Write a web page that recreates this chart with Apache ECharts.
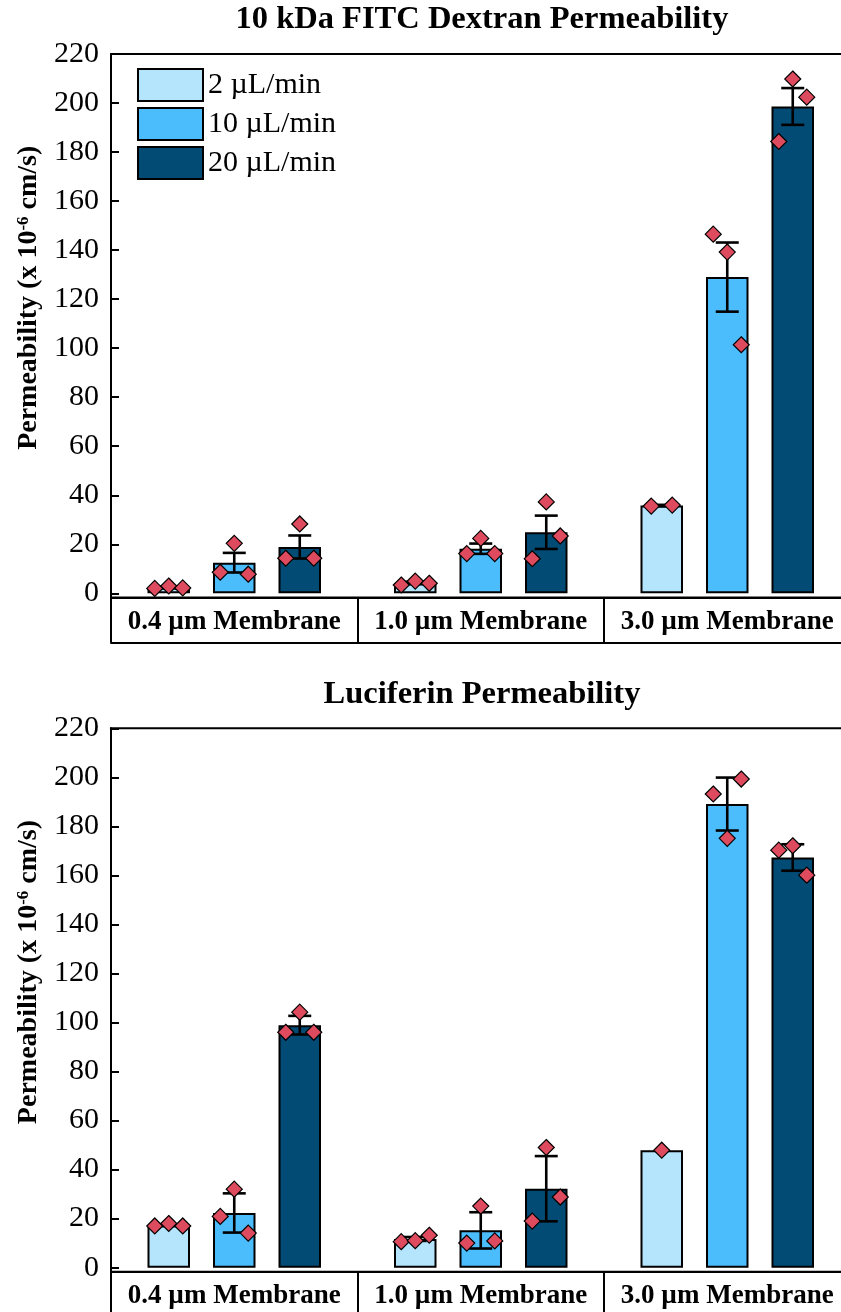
<!DOCTYPE html>
<html>
<head>
<meta charset="utf-8">
<script src="https://cdn.jsdelivr.net/npm/echarts@6/dist/echarts.min.js"></script>
<style>
html,body{margin:0;padding:0;background:#fff;}
#chart{width:841px;height:1312px;}
</style>
</head>
<body>
<div id="chart"></div>
<script>
// ---------- data ----------
const categories = ['0.4 µm Membrane', '1.0 µm Membrane', '3.0 µm Membrane'];
const flowRates = ['2 µL/min', '10 µL/min', '20 µL/min'];
const yTicks = [0, 20, 40, 60, 80, 100, 120, 140, 160, 180, 200, 220];

// 10 kDa FITC Dextran
const dextranMean2  = [2.4, 4.2, 35.8];
const dextranMean10 = [12.5, 18.2, 129.0];
const dextranMean20 = [18.9, 24.9, 198.6];
const dextranErr2   = [0.3, 0.5, 0.3];
const dextranErr10  = [4.0, 2.1, 14.1];
const dextranErr20  = [4.7, 6.8, 7.5];
const dextranPts2   = [[2.0, 3.0, 2.2], [3.4, 5.0, 4.1], [35.6, 36.0]];
const dextranPts10  = [[8.6, 20.4, 7.8], [16.2, 22.4, 16.2], [146.5, 139.2, 101.4]];
const dextranPts20  = [[14.3, 28.3, 14.3], [14.1, 37.3, 23.4], [184.3, 209.8, 202.4]];

// Luciferin
const lucMean2  = [17.3, 11.7, 47.9];
const lucMean10 = [22.3, 15.2, 189.1];
const lucMean20 = [98.9, 32.2, 167.3];
const lucErr2   = [0.3, 0.8, 0];
const lucErr10  = [8.0, 7.4, 10.8];
const lucErr20  = [3.8, 13.3, 5.4];
const lucPts2   = [[17.0, 18.0, 17.0], [10.6, 11.0, 13.2], [47.9]];
const lucPts10  = [[20.9, 32.0, 14.1], [10.0, 25.1, 10.9], [193.2, 175.1, 199.3]];
const lucPts20  = [[96.0, 104.2, 96.0], [19.0, 49.0, 28.8], [170.3, 172.1, 160.1]];

// ---------- styles ----------
const SERIF = "'Liberation Serif', 'Times New Roman', serif";
const barColors = ['#B5E5FC', '#4BBDFC', '#024B74'];
const diamondColor = '#DF4B5E';
const BAR_W = 42.5, BAR_GAP = 23;
const barOffsets = [-(BAR_W + BAR_GAP), 0, BAR_W + BAR_GAP];
const jitter = { 1: [0], 2: [-10.5, 10.5], 3: [-14, 0, 14] };
const CAP = 11.5;

const chart = echarts.init(document.getElementById('chart'), null, { renderer: 'canvas' });

function seriesFor(gi, means, errs, pts) {
  const out = [];
  for (let f = 0; f < 3; f++) {
    out.push({
      type: 'bar', name: flowRates[f], xAxisIndex: gi, yAxisIndex: gi,
      data: means[f], barWidth: BAR_W, barGap: (BAR_GAP / BAR_W * 100) + '%',
      itemStyle: { color: barColors[f], borderColor: '#000', borderWidth: 2 },
      z: 2, silent: true
    });
  }
  for (let f = 0; f < 3; f++) {
    out.push({
      type: 'custom', name: 'err' + f, xAxisIndex: gi, yAxisIndex: gi, z: 3, silent: true,
      data: means[f].map((m, i) => [i, m, errs[f][i]]),
      renderItem: function (params, api) {
        const i = api.value(0), m = api.value(1), e = api.value(2);
        if (!e) return null;
        const x = api.coord([i, m])[0] + barOffsets[f];
        const yT = api.coord([i, m + e])[1];
        const yB = api.coord([i, m - e])[1];
        const st = { stroke: '#000', lineWidth: 2.6 };
        return {
          type: 'group', children: [
            { type: 'line', shape: { x1: x, y1: yT, x2: x, y2: yB }, style: st },
            { type: 'line', shape: { x1: x - CAP, y1: yT, x2: x + CAP, y2: yT }, style: st },
            { type: 'line', shape: { x1: x - CAP, y1: yB, x2: x + CAP, y2: yB }, style: st }
          ]
        };
      }
    });
  }
  for (let f = 0; f < 3; f++) {
    const data = [];
    pts[f].forEach((arr, i) => {
      const jit = jitter[arr.length];
      arr.forEach((v, k) => {
        data.push({ value: [i, v], symbolOffset: [barOffsets[f] + jit[k], 0] });
      });
    });
    out.push({
      type: 'scatter', name: 'pts' + f, xAxisIndex: gi, yAxisIndex: gi, z: 4, silent: true,
      symbol: 'diamond', symbolSize: 16, data: data,
      itemStyle: { color: diamondColor, borderColor: '#000', borderWidth: 1.2, opacity: 1 }
    });
  }
  return out;
}

function gridFor(top) {
  return { left: 111, right: -9.5, top: top, height: 543.5, show: true,
           borderColor: '#000', borderWidth: 2, containLabel: false, outerBoundsMode: 'none' };
}
function xAxisFor(gi) {
  return {
    type: 'category', gridIndex: gi, data: categories, position: 'bottom',
    axisLine: { show: true, onZero: false, lineStyle: { color: '#000', width: 2 } },
    axisTick: { show: true, inside: false, length: 45, lineStyle: { color: '#000', width: 2 } },
    axisLabel: { show: true, interval: 0, fontFamily: SERIF, fontWeight: 'bold', fontSize: 27, color: '#000', margin: 11 },
    splitLine: { show: false }
  };
}
function xBoxFor(gi) {
  return {
    type: 'category', gridIndex: gi, data: categories, position: 'bottom', offset: 45,
    axisLine: { show: true, onZero: false, lineStyle: { color: '#000', width: 2 } },
    axisTick: { show: false }, axisLabel: { show: false }, splitLine: { show: false }
  };
}
function yAxisFor(gi) {
  return {
    type: 'value', gridIndex: gi, min: -1.7, max: yTicks[yTicks.length - 1],
    splitNumber: yTicks.length - 1, minInterval: 20, maxInterval: 20,
    axisLine: { show: true, lineStyle: { color: '#000', width: 2 } },
    axisTick: { show: true, inside: true, length: 8, lineStyle: { color: '#000', width: 2 } },
    axisLabel: {
      fontFamily: SERIF, fontSize: 30, color: '#000', margin: 12, showMinLabel: false,
      formatter: function (v) {
        const r = Math.round(v);
        return (Math.abs(v - r) < 1e-6 && yTicks.indexOf(r) >= 0) ? String(r) : '';
      }
    },
    splitLine: { show: false },
    name: 'Permeability (x 10{sup|-6} cm/s)', nameLocation: 'middle', nameGap: 66, nameRotate: 90,
    nameTextStyle: {
      fontFamily: SERIF, fontWeight: 'bold', fontSize: 28, color: '#000', padding: [0, 0, 0, 56],
      rich: { sup: { fontFamily: SERIF, fontWeight: 'bold', fontSize: 17, color: '#000', verticalAlign: 'top' } }
    }
  };
}

const titleStyle = { fontFamily: SERIF, fontWeight: 'bold', fontSize: 32.5, color: '#000' };
const option = {
  animation: false,
  backgroundColor: '#fff',
  title: [
    { text: '10 kDa FITC Dextran Permeability', left: 477, top: -2, textAlign: 'center', textStyle: titleStyle },
    { text: 'Luciferin Permeability', left: 477, top: 673, textAlign: 'center', textStyle: titleStyle }
  ],
  legend: {
    data: flowRates, orient: 'vertical', left: 132, top: 63,
    itemWidth: 65, itemHeight: 32, itemGap: 5, icon: 'rect',
    textStyle: { fontFamily: SERIF, fontSize: 30, color: '#000' },
    selectedMode: false
  },
  grid: [gridFor(54), gridFor(728.3)],
  xAxis: [xAxisFor(0), xAxisFor(1), xBoxFor(0), xBoxFor(1)],
  yAxis: [yAxisFor(0), yAxisFor(1)],
  series: [].concat(
    seriesFor(0, [dextranMean2, dextranMean10, dextranMean20], [dextranErr2, dextranErr10, dextranErr20], [dextranPts2, dextranPts10, dextranPts20]),
    seriesFor(1, [lucMean2, lucMean10, lucMean20], [lucErr2, lucErr10, lucErr20], [lucPts2, lucPts10, lucPts20])
  )
};
chart.setOption(option);
</script>
</body>
</html>
